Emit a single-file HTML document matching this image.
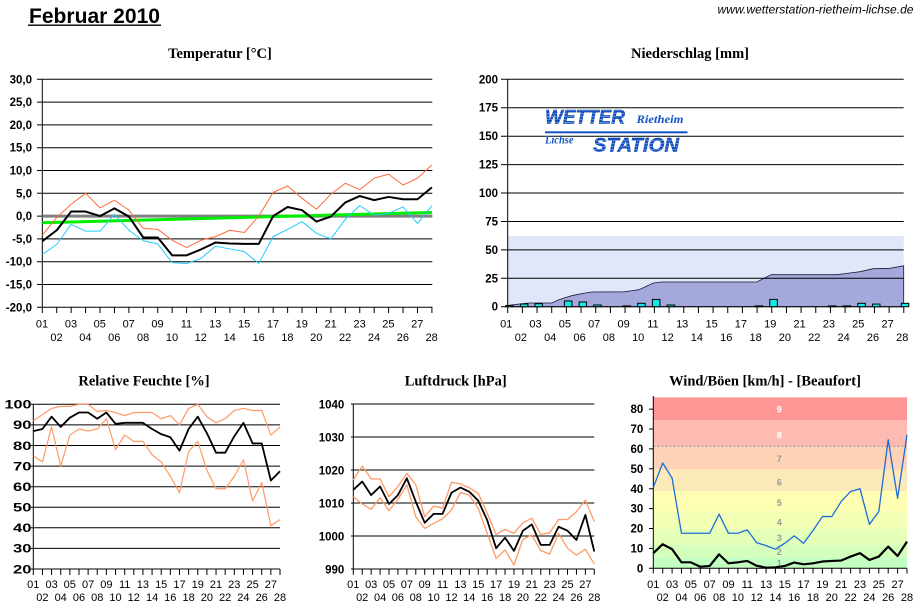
<!DOCTYPE html>
<html><head><meta charset="utf-8"><style>
html,body{margin:0;padding:0;background:#fff;}
svg{display:block;}
.t{font-family:"Liberation Serif",serif;font-weight:bold;font-size:14.5px;text-anchor:middle;fill:#000;}
.xl{font-family:"Liberation Sans",sans-serif;font-size:11px;text-anchor:middle;fill:#000;}
.yl{font-family:"Liberation Sans",sans-serif;font-size:11.5px;font-weight:bold;text-anchor:end;fill:#000;}
.g{stroke:#000;stroke-width:1;fill:none;}
.ns{vector-effect:non-scaling-stroke;fill:none;stroke-linejoin:round;}
</style></head><body>
<svg width="921" height="608" viewBox="0 0 921 608" xmlns="http://www.w3.org/2000/svg">
<defs>
<pattern id="st" width="4" height="3" patternUnits="userSpaceOnUse"><rect width="4" height="3" fill="#1452c4"/><rect y="2" width="4" height="1" fill="#5a90e8"/></pattern>
</defs>

<!-- Header -->
<text x="29" y="23" font-family="Liberation Sans, sans-serif" font-weight="bold" font-size="21px" textLength="131" lengthAdjust="spacingAndGlyphs">Februar 2010</text>
<rect x="28" y="24.5" width="133" height="1.4" fill="#000"/>
<text x="717.5" y="13.3" font-family="Liberation Sans, sans-serif" font-style="italic" font-size="11.5px" textLength="196" lengthAdjust="spacingAndGlyphs">www.wetterstation-rietheim-lichse.de</text>

<!-- ================= TEMPERATUR ================= -->
<text class="t" x="220" y="58">Temperatur [°C]</text>
<g class="g">
<path d="M37 79.3H432.3M37 102.1H432.3M37 124.9H432.3M37 147.7H432.3M37 170.5H432.3M37 193.3H432.3M37 216.1H432.3M37 238.9H432.3M37 261.7H432.3M37 284.5H432.3M37 307.3H432.3"/>
<path d="M42.3 79V307.3"/>
</g>
<line x1="41.8" y1="310" x2="432.8" y2="310" stroke="#000" stroke-width="6" stroke-dasharray="1 13.43"/>
<g class="yl">
<text x="32" y="83.3">30,0</text><text x="32" y="106.1">25,0</text><text x="32" y="128.9">20,0</text><text x="32" y="151.7">15,0</text><text x="32" y="174.5">10,0</text><text x="32" y="197.3">5,0</text><text x="32" y="220.1">0,0</text><text x="32" y="242.9">-5,0</text><text x="32" y="265.7">-10,0</text><text x="32" y="288.5">-15,0</text><text x="32" y="311.3">-20,0</text>
</g>
<line x1="42.3" y1="216.1" x2="432.3" y2="216.1" stroke="#808080" stroke-width="3"/>
<g transform="translate(27.87,216.1) scale(14.43,-4.56)">
<polyline class="ns" stroke="#00ee00" stroke-width="3" points="1,-1.46 28,0.8"/>
<polyline class="ns" stroke="#ff6a3c" stroke-width="1" points="1,-4.2 2,-0.3 3,2.6 4,5 5,1.8 6,3.5 7,1.3 8,-2.7 9,-2.9 10,-5.3 11,-6.9 12,-5.3 13,-4.5 14,-3.1 15,-3.6 16,0 17,5.2 18,6.6 19,3.9 20,1.5 21,4.8 22,7.2 23,5.8 24,8.3 25,9.2 26,6.8 27,8.3 28,11.2"/>
<polyline class="ns" stroke="#22ccff" stroke-width="1" points="1,-8.4 2,-6.2 3,-1.8 4,-3.3 5,-3.3 6,0.4 7,-3.1 8,-5.4 9,-6.1 10,-10.2 11,-10.4 12,-9.3 13,-6.6 14,-7.2 15,-7.8 16,-10.4 17,-4.5 18,-2.9 19,-1.2 20,-3.8 21,-5 22,-0.7 23,2.3 24,0.2 25,0.6 26,2 27,-1.6 28,2.3"/>
<polyline class="ns" stroke="#000" stroke-width="2" points="1,-5.5 2,-3.1 3,1 4,1 5,0 6,1.7 7,-0.1 8,-4.7 9,-4.7 10,-8.6 11,-8.6 12,-7.3 13,-5.8 14,-6 15,-6.1 16,-6.1 17,0 18,2 19,1.3 20,-1.2 21,-0.1 22,3 23,4.4 24,3.5 25,4.2 26,3.7 27,3.7 28,6.3"/>
</g>
<g class="xl">
<text x="42" y="327.3">01</text><text x="71" y="327.3">03</text><text x="99.8" y="327.3">05</text><text x="128.7" y="327.3">07</text><text x="157.5" y="327.3">09</text><text x="186.4" y="327.3">11</text><text x="215.3" y="327.3">13</text><text x="244.1" y="327.3">15</text><text x="273" y="327.3">17</text><text x="301.8" y="327.3">19</text><text x="330.7" y="327.3">21</text><text x="359.6" y="327.3">23</text><text x="388.4" y="327.3">25</text><text x="417.3" y="327.3">27</text>
<text x="56.5" y="341">02</text><text x="85.4" y="341">04</text><text x="114.3" y="341">06</text><text x="143.1" y="341">08</text><text x="172" y="341">10</text><text x="200.8" y="341">12</text><text x="229.7" y="341">14</text><text x="258.6" y="341">16</text><text x="287.4" y="341">18</text><text x="316.3" y="341">20</text><text x="345.1" y="341">22</text><text x="374" y="341">24</text><text x="402.9" y="341">26</text><text x="431.7" y="341">28</text>
</g>

<!-- ================= NIEDERSCHLAG ================= -->
<text class="t" x="690" y="58">Niederschlag [mm]</text>
<rect x="507.7" y="236" width="396" height="70.7" fill="#dfe7f8"/>
<polygon fill="#a4a8da" stroke="#1a1a40" stroke-width="0.8" points="507.7,305.5 519.3,304 529.3,303 551.7,303 558.3,300 565,297.7 571.7,295.7 578.3,294.3 585,293 591.7,292 624.3,291.8 639,289.7 653.3,283 661.7,282 756.7,282 771.3,274.7 836.7,274.7 850,273 860,271.7 873.3,268.7 890,268.3 903.7,265.7 903.7,306.7 507.7,306.7"/>
<g class="g">
<path d="M501 79.3H903.7M501 107.7H903.7M501 136.2H903.7M501 164.6H903.7M501 193H903.7M501 221.5H903.7M501 249.9H903.7M501 278.3H903.7M501 306.7H903.7"/>
<path d="M507.7 79V306.7"/>
</g>
<line x1="507.2" y1="310" x2="904.3" y2="310" stroke="#000" stroke-width="6" stroke-dasharray="1 13.67"/>
<g fill="#11eaea" stroke="#000" stroke-width="1">
<rect x="505.7" y="305.5" width="7.5" height="1.2"/>
<rect x="520.4" y="304" width="7.5" height="2.7"/>
<rect x="535" y="303.7" width="7.5" height="3"/>
<rect x="564.4" y="301" width="7.5" height="5.7"/>
<rect x="579.1" y="302" width="7.5" height="4.7"/>
<rect x="593.7" y="305" width="7.5" height="1.7"/>
<rect x="623.1" y="305.9" width="7.5" height="0.8"/>
<rect x="637.7" y="303.3" width="7.5" height="3.4"/>
<rect x="652.4" y="299.4" width="7.5" height="7.3"/>
<rect x="667.1" y="305" width="7.5" height="1.7"/>
<rect x="755.1" y="305.9" width="7.5" height="0.8"/>
<rect x="769.8" y="299.4" width="7.5" height="7.3"/>
<rect x="828.4" y="305.9" width="7.5" height="0.8"/>
<rect x="843.1" y="305.9" width="7.5" height="0.8"/>
<rect x="857.8" y="303.3" width="7.5" height="3.4"/>
<rect x="872.5" y="304.1" width="7.5" height="2.6"/>
<rect x="901.3" y="303.3" width="7.5" height="3.4"/>
</g>
<g class="yl">
<text x="498" y="83.3">200</text><text x="498" y="111.7">175</text><text x="498" y="140.2">150</text><text x="498" y="168.6">125</text><text x="498" y="197">100</text><text x="498" y="225.5">75</text><text x="498" y="253.9">50</text><text x="498" y="282.3">25</text><text x="498" y="310.7">0</text>
</g>
<g class="xl">
<text x="506.2" y="327.3">01</text><text x="535.5" y="327.3">03</text><text x="564.9" y="327.3">05</text><text x="594.2" y="327.3">07</text><text x="623.6" y="327.3">09</text><text x="652.9" y="327.3">11</text><text x="682.2" y="327.3">13</text><text x="711.6" y="327.3">15</text><text x="740.9" y="327.3">17</text><text x="770.3" y="327.3">19</text><text x="799.6" y="327.3">21</text><text x="828.9" y="327.3">23</text><text x="858.3" y="327.3">25</text><text x="887.6" y="327.3">27</text>
<text x="520.9" y="341">02</text><text x="550.2" y="341">04</text><text x="579.6" y="341">06</text><text x="608.9" y="341">08</text><text x="638.2" y="341">10</text><text x="667.6" y="341">12</text><text x="696.9" y="341">14</text><text x="726.3" y="341">16</text><text x="755.6" y="341">18</text><text x="784.9" y="341">20</text><text x="814.3" y="341">22</text><text x="843.6" y="341">24</text><text x="873" y="341">26</text><text x="902.3" y="341">28</text>
</g>
<!-- Logo -->
<text x="545" y="123.3" font-family="Liberation Sans, sans-serif" font-weight="bold" font-style="italic" font-size="19px" fill="url(#st)" stroke="#0a3a9a" stroke-width="0.4" textLength="80" lengthAdjust="spacingAndGlyphs">WETTER</text>
<text x="636.5" y="123" font-family="Liberation Serif, serif" font-weight="bold" font-style="italic" font-size="11.5px" fill="#1452c4" textLength="47" lengthAdjust="spacingAndGlyphs">Rietheim</text>
<rect x="545" y="131.3" width="142.5" height="2" fill="#1452c4"/>
<text x="545" y="143.5" font-family="Liberation Serif, serif" font-weight="bold" font-style="italic" font-size="11.5px" fill="#1452c4" textLength="28.5" lengthAdjust="spacingAndGlyphs">Lichse</text>
<text x="593" y="151.5" font-family="Liberation Sans, sans-serif" font-weight="bold" font-style="italic" font-size="19px" fill="url(#st)" stroke="#0a3a9a" stroke-width="0.4" textLength="86" lengthAdjust="spacingAndGlyphs">STATION</text>

<!-- ================= RELATIVE FEUCHTE ================= -->
<text class="t" x="144" y="385.7">Relative Feuchte [%]</text>
<g class="g">
<path d="M31 404.3H280M31 424.9H280M31 445.5H280M31 466.1H280M31 486.7H280M31 507.2H280M31 527.8H280M31 548.4H280M31 569H280"/>
<path d="M33.3 404V569"/>
</g>
<line x1="32.8" y1="572" x2="280.5" y2="572" stroke="#000" stroke-width="6" stroke-dasharray="1 8.137"/>
<g class="yl" font-size="12px">
<text x="31.5" y="408.6" textLength="27" lengthAdjust="spacingAndGlyphs">100</text><text x="31.5" y="429.2" textLength="18.5" lengthAdjust="spacingAndGlyphs">90</text><text x="31.5" y="449.8" textLength="18.5" lengthAdjust="spacingAndGlyphs">80</text><text x="31.5" y="470.4" textLength="18.5" lengthAdjust="spacingAndGlyphs">70</text><text x="31.5" y="491" textLength="18.5" lengthAdjust="spacingAndGlyphs">60</text><text x="31.5" y="511.5" textLength="18.5" lengthAdjust="spacingAndGlyphs">50</text><text x="31.5" y="532.1" textLength="18.5" lengthAdjust="spacingAndGlyphs">40</text><text x="31.5" y="552.7" textLength="18.5" lengthAdjust="spacingAndGlyphs">30</text><text x="31.5" y="573.3" textLength="18.5" lengthAdjust="spacingAndGlyphs">20</text>
</g>
<g transform="translate(24.16,610.2) scale(9.137,-2.059)">
<polyline class="ns" stroke="#ff9a66" stroke-width="1.2" points="1,92 2,95 3,98 4,99 5,99 6,100 7,100 8,96.5 9,97 10,96 11,94.5 12,96 13,96 14,96 15,93 16,94.5 17,90 18,98 19,100 20,94 21,91 22,93 23,97 24,98 25,97 26,97 27,85 28,89"/>
<polyline class="ns" stroke="#ff9a66" stroke-width="1.2" points="1,75 2,72 3,89 4,70 5,85 6,88 7,87 8,88 9,93 10,78 11,85 12,82 13,82 14,75.5 15,72 16,65 17,57 18,77 19,82 20,68 21,59 22,59 23,65 24,73 25,53 26,62 27,41 28,44"/>
<polyline class="ns" stroke="#000" stroke-width="1.8" points="1,87 2,88 3,94 4,89 5,93.5 6,96 7,96 8,93 9,96 10,90.5 11,91 12,91 13,91 14,88 15,85.5 16,84 17,77.5 18,88 19,94 20,86 21,76.5 22,76.5 23,84.5 24,91 25,81 26,81 27,63 28,67.5"/>
</g>
<g class="xl">
<text x="33.3" y="588">01</text><text x="51.6" y="588">03</text><text x="69.8" y="588">05</text><text x="88.1" y="588">07</text><text x="106.4" y="588">09</text><text x="124.7" y="588">11</text><text x="142.9" y="588">13</text><text x="161.2" y="588">15</text><text x="179.5" y="588">17</text><text x="197.8" y="588">19</text><text x="216" y="588">21</text><text x="234.3" y="588">23</text><text x="252.6" y="588">25</text><text x="270.9" y="588">27</text>
<text x="42.4" y="601">02</text><text x="60.7" y="601">04</text><text x="79" y="601">06</text><text x="97.3" y="601">08</text><text x="115.5" y="601">10</text><text x="133.8" y="601">12</text><text x="152.1" y="601">14</text><text x="170.3" y="601">16</text><text x="188.6" y="601">18</text><text x="206.9" y="601">20</text><text x="225.2" y="601">22</text><text x="243.4" y="601">24</text><text x="261.7" y="601">26</text><text x="280" y="601">28</text>
</g>

<!-- ================= LUFTDRUCK ================= -->
<text class="t" x="455.7" y="385.7">Luftdruck [hPa]</text>
<g class="g">
<path d="M351 404H594.3M351 437H594.3M351 470H594.3M351 503H594.3M351 536H594.3M351 569H594.3"/>
<path d="M353.3 403.5V569"/>
</g>
<line x1="352.8" y1="572" x2="594.8" y2="572" stroke="#000" stroke-width="5.5" stroke-dasharray="1 7.926"/>
<g class="yl" font-size="12px">
<text x="344.3" y="408.3">1040</text><text x="344.3" y="441.3">1030</text><text x="344.3" y="474.3">1020</text><text x="344.3" y="507.3">1010</text><text x="344.3" y="540.3">1000</text><text x="344.3" y="573.3">990</text>
</g>
<g transform="translate(344.37,3836) scale(8.926,-3.3)">
<polyline class="ns" stroke="#ff9a66" stroke-width="1.3" points="1,1017 2,1021.2 3,1017.3 4,1017.3 5,1011.9 6,1015 7,1019 8,1015.5 9,1005.8 10,1009.1 11,1008.4 12,1016.3 13,1015.8 14,1014.6 15,1012.9 16,1006.9 17,1000.5 18,1002 19,1000.8 20,1004 21,1005.4 22,1000.5 23,1001 24,1005 25,1005 26,1007.4 27,1010.9 28,1004.3"/>
<polyline class="ns" stroke="#ff9a66" stroke-width="1.3" points="1,1011.9 2,1009.7 3,1008.1 4,1011.6 5,1007.7 6,1011.1 7,1015.5 8,1005.8 9,1002.3 10,1003.8 11,1005.2 12,1007.9 13,1013.2 14,1012.4 15,1008.4 16,1000.8 17,993.2 18,995.8 19,991.2 20,999 21,1000.3 22,995.6 23,994.5 24,1000.8 25,996.3 26,994.2 27,996 28,991.5"/>
<polyline class="ns" stroke="#000" stroke-width="1.8" points="1,1014 2,1016.5 3,1012.4 4,1015 5,1009.7 6,1012.4 7,1017.5 8,1010.4 9,1004 10,1006.7 11,1006.7 12,1013.1 13,1014.7 14,1013.4 15,1010.7 16,1004.8 17,996.3 18,999.5 19,995.5 20,1001.6 21,1003.5 22,997.3 23,997.3 24,1002.8 25,1001.6 26,998.8 27,1006.4 28,995.3"/>
</g>
<g class="xl">
<text x="353.3" y="588">01</text><text x="371.2" y="588">03</text><text x="389" y="588">05</text><text x="406.9" y="588">07</text><text x="424.7" y="588">09</text><text x="442.6" y="588">11</text><text x="460.4" y="588">13</text><text x="478.3" y="588">15</text><text x="496.1" y="588">17</text><text x="514" y="588">19</text><text x="531.8" y="588">21</text><text x="549.7" y="588">23</text><text x="567.5" y="588">25</text><text x="585.4" y="588">27</text>
<text x="362.2" y="601">02</text><text x="380.1" y="601">04</text><text x="397.9" y="601">06</text><text x="415.8" y="601">08</text><text x="433.6" y="601">10</text><text x="451.5" y="601">12</text><text x="469.3" y="601">14</text><text x="487.2" y="601">16</text><text x="505.1" y="601">18</text><text x="522.9" y="601">20</text><text x="540.8" y="601">22</text><text x="558.6" y="601">24</text><text x="576.5" y="601">26</text><text x="594.3" y="601">28</text>
</g>

<!-- ================= WIND ================= -->
<text class="t" x="765" y="385.7">Wind/Böen [km/h] - [Beaufort]</text>
<g>
<rect x="653.3" y="397.3" width="253.7" height="23" fill="#ff9797"/>
<rect x="653.3" y="420.3" width="253.7" height="25.6" fill="#ffbbb1"/>
<rect x="653.3" y="445.9" width="253.7" height="23.5" fill="#ffd3b6"/>
<rect x="653.3" y="469.4" width="253.7" height="21.8" fill="#fce9b8"/>
<rect x="653.3" y="491.2" width="253.7" height="20" fill="#ffffb4"/>
<rect x="653.3" y="511.2" width="253.7" height="17.8" fill="#f3ffb4"/>
<rect x="653.3" y="529" width="253.7" height="15.8" fill="#e4ffb8"/>
<rect x="653.3" y="544.8" width="253.7" height="12.8" fill="#d4ffbb"/>
<rect x="653.3" y="557.6" width="253.7" height="10.7" fill="#c4ffc2"/>
</g>
<line x1="653.3" y1="446.3" x2="907" y2="446.3" stroke="#7a8aa0" stroke-width="1" stroke-dasharray="2 2"/>
<g font-family="Liberation Sans, sans-serif" font-size="9px" text-anchor="middle" font-weight="bold">
<text x="779.3" y="412.5" fill="#fff">9</text><text x="779.3" y="438.5" fill="#fff">8</text>
<text x="779.3" y="462" fill="#9a9a9a">7</text><text x="779.3" y="485.5" fill="#9a9a9a">6</text><text x="779.3" y="506" fill="#9a9a9a">5</text><text x="779.3" y="525.5" fill="#9a9a9a">4</text><text x="779.3" y="541" fill="#9a9a9a">3</text><text x="779.3" y="555" fill="#9a9a9a">2</text><text x="779.3" y="566.5" fill="#9a9a9a">1</text>
</g>
<g class="g">
<path d="M653.3 396V568.3H907"/>
<path d="M649 409.1H653.3M649 429H653.3M649 448.9H653.3M649 468.8H653.3M649 488.7H653.3M649 508.6H653.3M649 528.5H653.3M649 548.4H653.3M649 568.3H653.3"/>
</g>
<line x1="652.8" y1="571" x2="907.5" y2="571" stroke="#000" stroke-width="5" stroke-dasharray="1 8.396"/>
<g class="yl" font-size="12px">
<text x="643.3" y="413.2">80</text><text x="643.3" y="433.1">70</text><text x="643.3" y="453">60</text><text x="643.3" y="472.9">50</text><text x="643.3" y="492.8">40</text><text x="643.3" y="512.7">30</text><text x="643.3" y="532.6">20</text><text x="643.3" y="552.5">10</text><text x="643.3" y="572.4">0</text>
</g>
<g transform="translate(643.9,568.3) scale(9.396,-1.99)">
<polyline class="ns" stroke="#1e6ddc" stroke-width="1.3" points="1,40.6 2,52.9 3,45.3 4,17.6 5,17.6 6,17.6 7,17.6 8,27.2 9,17.6 10,17.6 11,19.3 12,12.9 13,11.4 14,9.6 15,12.6 16,16.3 17,12.6 18,19 19,26 20,26 21,33.6 22,38.6 23,40 24,22.1 25,28.5 26,64.6 27,35.2 28,67.1"/>
<polyline class="ns" stroke="#000" stroke-width="2.2" points="1,7.6 2,12.1 3,9.6 4,3 5,3 6,0.8 7,1.2 8,7 9,2.5 10,3 11,3.7 12,1.3 13,0.3 14,0.5 15,1.2 16,2.9 17,2 18,2.5 19,3.4 20,3.7 21,3.9 22,5.9 23,7.6 24,4.2 25,5.9 26,10.9 27,6.2 28,13.4"/>
</g>
<g class="xl">
<text x="653.3" y="588">01</text><text x="672.1" y="588">03</text><text x="690.9" y="588">05</text><text x="709.7" y="588">07</text><text x="728.5" y="588">09</text><text x="747.3" y="588">11</text><text x="766.1" y="588">13</text><text x="784.8" y="588">15</text><text x="803.6" y="588">17</text><text x="822.4" y="588">19</text><text x="841.2" y="588">21</text><text x="860" y="588">23</text><text x="878.8" y="588">25</text><text x="897.6" y="588">27</text>
<text x="662.7" y="601">02</text><text x="681.5" y="601">04</text><text x="700.3" y="601">06</text><text x="719.1" y="601">08</text><text x="737.9" y="601">10</text><text x="756.7" y="601">12</text><text x="775.5" y="601">14</text><text x="794.2" y="601">16</text><text x="813" y="601">18</text><text x="831.8" y="601">20</text><text x="850.6" y="601">22</text><text x="869.4" y="601">24</text><text x="888.2" y="601">26</text><text x="907" y="601">28</text>
</g>
</svg>
</body></html>
